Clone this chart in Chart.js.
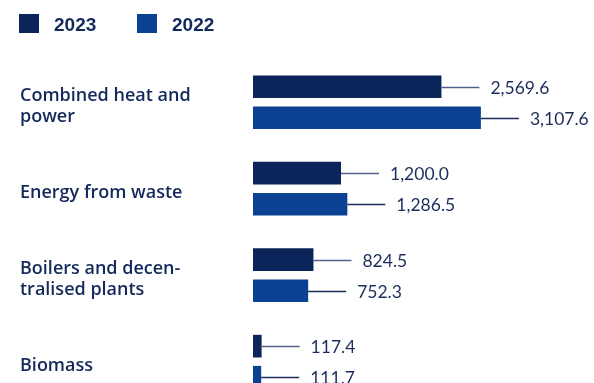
<!DOCTYPE html>
<html>
<head>
<meta charset="utf-8">
<script src="https://cdn.jsdelivr.net/npm/chart.js@4"></script>
<style>
  html, body { margin: 0; padding: 0; background: #fff; overflow: hidden; width: 594px; height: 383px; }
  canvas { display: block; }
</style>
</head>
<body>
<canvas id="myChart" width="594" height="429" style="width:594px;height:429px"></canvas>
<script>
var categories = [
  ['Combined heat and', 'power'],
  'Energy from waste',
  ['Boilers and decen-', 'tralised plants'],
  'Biomass'
];
var seriesNames = ['2023', '2022'];
var values2023 = [2569.6, 1200.0, 824.5, 117.4];
var values2022 = [3107.6, 1286.5, 752.3, 111.7];

var navy = '#0b2459';
var blue = '#0a4193';
var textNavy = '#14295b';

function fmt(v) {
  return v.toLocaleString('en-US', { minimumFractionDigits: 1, maximumFractionDigits: 1 });
}

// leader lines + value labels to the right of each bar
var valueLabels = {
  id: 'valueLabels',
  afterDatasetsDraw: function(chart) {
    var ctx = chart.ctx;
    ctx.save();
    chart.data.datasets.forEach(function(ds, i) {
      var meta = chart.getDatasetMeta(i);
      meta.data.forEach(function(bar, j) {
        var y = Math.round(bar.y) + 0.5;
        ctx.strokeStyle = i === 0 ? '#52618a' : '#1a2d5e';
        ctx.lineWidth = 1.5;
        ctx.beginPath();
        ctx.moveTo(bar.x, y);
        ctx.lineTo(bar.x + 38, y);
        ctx.stroke();
        ctx.fillStyle = '#1c2d5c';
        ctx.font = '17.5px Lato';
        ctx.textBaseline = 'middle';
        ctx.textAlign = 'left';
        ctx.fillText(fmt(ds.data[j]), bar.x + 49, bar.y + 1.5);
      });
    });
    ctx.restore();
  }
};

// legend squares at the top left
var topLegend = {
  id: 'topLegend',
  afterDraw: function(chart) {
    var ctx = chart.ctx;
    var xs = [19, 137];
    ctx.save();
    chart.data.datasets.forEach(function(ds, i) {
      ctx.fillStyle = ds.backgroundColor;
      ctx.fillRect(xs[i], 14, 20, 19);
      ctx.fillStyle = textNavy;
      ctx.font = 'bold 19px "Liberation Sans", Arial, sans-serif';
      ctx.textBaseline = 'middle';
      ctx.textAlign = 'left';
      ctx.fillText(ds.label, xs[i] + 35, 25.5);
    });
    ctx.restore();
  }
};

var ctx = document.getElementById('myChart').getContext('2d');
var myChart = new Chart(ctx, {
  type: 'bar',
  data: {
    labels: categories,
    datasets: [{
      label: seriesNames[0],
      data: values2023,
      backgroundColor: navy,
      categoryPercentage: 0.718,
      barPercentage: 0.73
    }, {
      label: seriesNames[1],
      data: values2022,
      backgroundColor: blue,
      categoryPercentage: 0.718,
      barPercentage: 0.73
    }]
  },
  options: {
    indexAxis: 'y',
    responsive: false,
    animation: false,
    layout: { padding: { left: 20, top: 59, right: 0, bottom: 0 } },
    plugins: {
      legend: { display: false },
      tooltip: { enabled: false }
    },
    scales: {
      x: {
        display: false,
        min: 0,
        max: 4650
      },
      y: {
        grid: { display: false },
        border: { display: false },
        afterFit: function(scale) { scale.width = 233; },
        ticks: {
          crossAlign: 'far',
          labelOffset: 4,
          color: textNavy,
          font: { family: 'Open Sans', weight: '600', size: 18, lineHeight: 1.17 }
        }
      }
    }
  },
  plugins: [valueLabels, topLegend]
});
</script>
</body>
</html>
